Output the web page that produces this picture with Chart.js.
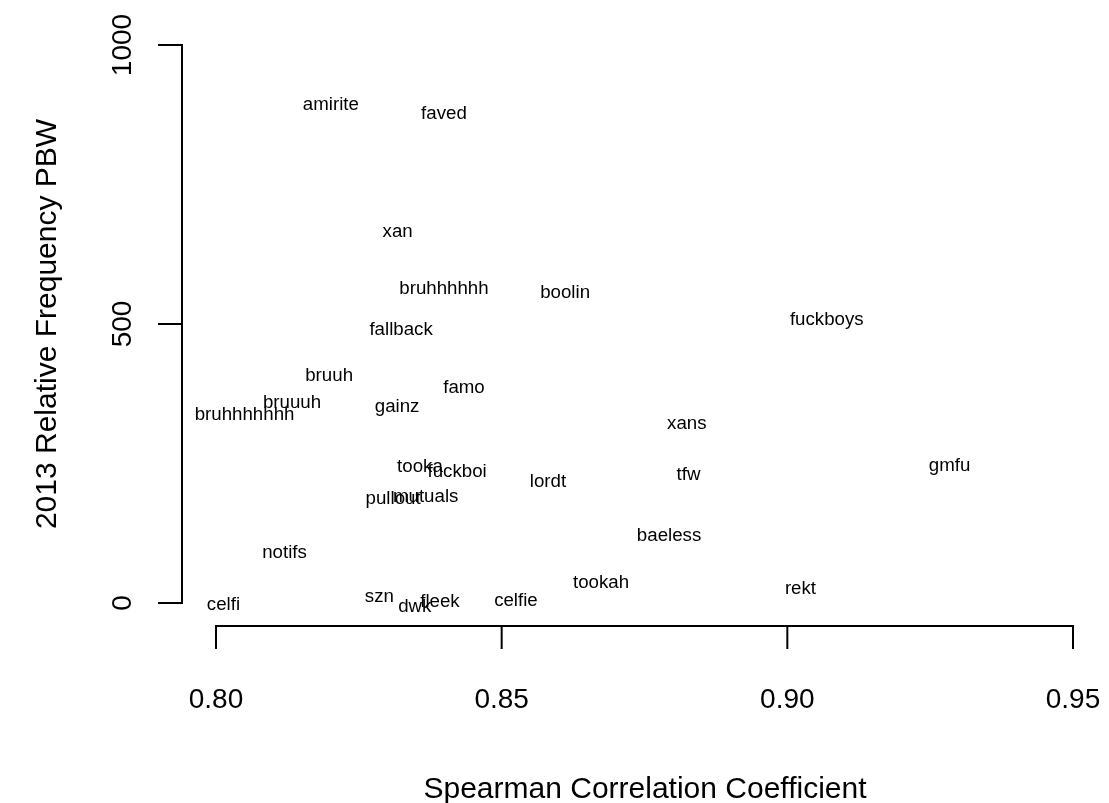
<!DOCTYPE html>
<html>
<head>
<meta charset="utf-8">
<script src="https://cdn.jsdelivr.net/npm/chart.js@4/dist/chart.umd.min.js"></script>
<style>
  html, body { margin: 0; padding: 0; background: #fff; }
  canvas { display: block; }
</style>
</head>
<body>
<canvas id="chart" width="1109" height="803"></canvas>
<script>
// words and their values
const words = ['amirite', 'faved', 'xan', 'bruhhhhhh', 'boolin', 'fallback', 'fuckboys',
  'bruuh', 'famo', 'bruuuh', 'bruhhhhhhh', 'gainz', 'xans', 'tooka', 'fuckboi', 'lordt',
  'tfw', 'gmfu', 'pullout', 'mutuals', 'baeless', 'notifs', 'tookah', 'rekt', 'celfi',
  'szn', 'dwk', 'fleek', 'celfie'];
const spearman = [0.8201, 0.8399, 0.8318, 0.8399, 0.8611, 0.8324, 0.9069,
  0.8198, 0.8434, 0.8133, 0.8050, 0.8317, 0.8824, 0.8357, 0.8422, 0.8581,
  0.8827, 0.9284, 0.8310, 0.8367, 0.8793, 0.8120, 0.8674, 0.9023, 0.8013,
  0.8286, 0.8348, 0.8392, 0.8525];
const freq2013 = [896, 879, 668, 565, 559, 492, 510,
  409, 389, 361, 340, 354, 323, 246, 238, 220,
  233, 248, 189, 193, 123, 93, 38, 29, -1,
  13, -4, 4, 6];

const xTicks = [0.80, 0.85, 0.90, 0.95];
const yTicks = [0, 500, 1000];
const xTitle = 'Spearman Correlation Coefficient';
const yTitle = '2013 Relative Frequency PBW';

// value ranges spanning the whole canvas (R-style offset axes drawn by hand)
const xMin = 0.762194, xMax = 0.956301;
const yMin = -358.42, yMax = 1080.65;

const FONT = '"Liberation Sans", Arial, Helvetica, sans-serif';

const rAxes = {
  id: 'rAxes',
  afterDatasetsDraw(chart) {
    const ctx = chart.ctx;
    const xs = chart.scales.x, ys = chart.scales.y;
    ctx.save();
    ctx.strokeStyle = '#000';
    ctx.fillStyle = '#000';
    ctx.lineWidth = 2;
    ctx.lineCap = 'square';

    // x axis
    const xAxisY = 626;
    const x0 = xs.getPixelForValue(xTicks[0]);
    const x1 = xs.getPixelForValue(xTicks[xTicks.length - 1]);
    ctx.beginPath();
    ctx.moveTo(x0, xAxisY); ctx.lineTo(x1, xAxisY);
    xTicks.forEach(v => {
      const px = xs.getPixelForValue(v);
      ctx.moveTo(px, xAxisY); ctx.lineTo(px, xAxisY + 22);
    });
    ctx.stroke();
    ctx.font = '28px ' + FONT;
    ctx.textAlign = 'center';
    ctx.textBaseline = 'alphabetic';
    xTicks.forEach(v => {
      ctx.fillText(v.toFixed(2), xs.getPixelForValue(v), 698 + 10);
    });

    // y axis
    const yAxisX = 182;
    const y0 = ys.getPixelForValue(yTicks[0]);
    const y1 = ys.getPixelForValue(yTicks[yTicks.length - 1]);
    ctx.beginPath();
    ctx.moveTo(yAxisX, y0); ctx.lineTo(yAxisX, y1);
    yTicks.forEach(v => {
      const py = ys.getPixelForValue(v);
      ctx.moveTo(yAxisX, py); ctx.lineTo(yAxisX - 23, py);
    });
    ctx.stroke();
    yTicks.forEach(v => {
      ctx.save();
      ctx.translate(121, ys.getPixelForValue(v));
      ctx.rotate(-Math.PI / 2);
      ctx.fillText(String(v), 0, 10);
      ctx.restore();
    });

    // axis titles
    ctx.font = '30px ' + FONT;
    ctx.fillText(xTitle, 645, 787 + 10.7);
    ctx.save();
    ctx.translate(45, 324);
    ctx.rotate(-Math.PI / 2);
    ctx.fillText(yTitle, 0, 10.7);
    ctx.restore();

    // word labels at each point
    ctx.font = '18.7px ' + FONT;
    const meta = chart.getDatasetMeta(0);
    meta.data.forEach((pt, i) => {
      ctx.fillText(words[i], pt.x, pt.y + 6.7);
    });
    ctx.restore();
  }
};

new Chart(document.getElementById('chart'), {
  type: 'scatter',
  data: {
    datasets: [{
      label: 'words',
      data: spearman.map((s, i) => ({ x: s, y: freq2013[i] })),
      pointRadius: 0,
      pointHoverRadius: 0
    }]
  },
  options: {
    responsive: false,
    animation: false,
    layout: { padding: 0 },
    plugins: { legend: { display: false }, tooltip: { enabled: false } },
    scales: {
      x: { type: 'linear', min: xMin, max: xMax, display: false },
      y: { type: 'linear', min: yMin, max: yMax, display: false }
    }
  },
  plugins: [rAxes]
});
</script>
</body>
</html>
